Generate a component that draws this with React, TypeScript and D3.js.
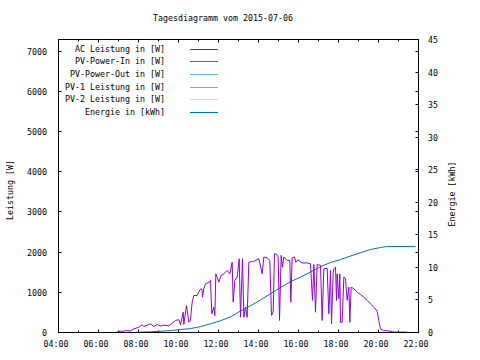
import React from "react";
import * as d3 from "d3";

const chartTitle = "Tagesdiagramm vom 2015-07-06";
const leftAxisLabel = "Leistung [W]";
const rightAxisLabel = "Energie [kWh]";

const acTimes = [
  "06:00", "06:50", "06:56", "07:06", "07:16", "07:21", "07:36", "07:46", "08:01", "08:11",
  "08:16", "08:26", "08:36", "08:46", "08:56", "09:06", "09:16", "09:31", "09:41", "09:51",
  "10:01", "10:06", "10:14", "10:16", "10:24", "10:31", "10:36", "10:38", "10:41", "10:46",
  "10:56", "11:04", "11:08", "11:11", "11:12", "11:16", "11:21", "11:31", "11:36", "11:40",
  "11:46", "11:49", "11:52", "11:56", "12:01", "12:08", "12:16", "12:26", "12:34", "12:41",
  "12:44", "12:49", "12:56", "13:02", "13:06", "13:12", "13:16", "13:21", "13:26", "13:31",
  "13:46", "14:01", "14:11", "14:16", "14:26", "14:34", "14:39", "14:44", "14:48", "14:54",
  "14:59", "15:03", "15:08", "15:12", "15:16", "15:26", "15:34", "15:37", "15:41", "15:48",
  "15:52", "15:58", "16:11", "16:26", "16:36", "16:42", "16:46", "16:51", "16:56", "17:06",
  "17:11", "17:16", "17:26", "17:31", "17:36", "17:39", "17:44", "17:46", "17:51", "17:54",
  "17:56", "18:01", "18:04", "18:06", "18:11", "18:16", "18:21", "18:26", "18:31", "18:34",
  "18:38", "18:46", "18:56", "19:06", "19:16", "19:26", "19:36", "19:46", "19:56", "20:01",
  "20:06", "20:16", "20:31", "20:46", "21:26",
];
const acValues = [
  0, 0, 10, 30, 30, 50, 40, 90, 130, 190,
  150, 180, 215, 150, 200, 160, 180, 170, 230, 300,
  320, 190, 505, 200, 670, 260, 300, 500, 750, 920,
  920, 1060, 1090, 1045, 880, 1090, 1210, 1250, 1295, 465,
  630, 420, 1460, 1380, 1250, 1420, 1460, 1545, 1460, 1750,
  755, 1295, 1380, 1835, 380, 1835, 380, 630, 380, 1750,
  1770, 1835, 1460, 1880, 1855, 1795, 425, 505, 1960, 1945,
  1880, 300, 1920, 1625, 1880, 1795, 1795, 755, 1855, 1880,
  1750, 1810, 1730, 1730, 1710, 800, 1690, 505, 1690, 1670,
  300, 1585, 1600, 465, 1545, 215, 1460, 1585, 1625, 800,
  1460, 840, 1460, 255, 255, 1380, 1340, 800, 1130, 255,
  1130, 1090, 1005, 945, 880, 800, 715, 630, 530, 300,
  90, 50, 40, 10, 10,
];

const energyTimes = [
  "07:36", "08:36", "09:36", "10:06", "10:36", "11:06", "11:36", "12:06", "12:36", "13:06",
  "13:36", "14:06", "14:36", "15:06", "15:36", "16:06", "16:36", "17:06", "17:36", "18:06",
  "18:36", "19:06", "19:36", "20:06", "20:24", "21:51",
];
const energyValues = [
  0, 0.1, 0.3, 0.45, 0.6, 0.9, 1.35, 1.8, 2.4, 3.3,
  4.1, 5.0, 5.95, 6.9, 7.8, 8.5, 9.3, 10.1, 10.75, 11.2,
  11.75, 12.25, 12.75, 13.05, 13.2, 13.2,
];

const leftTicks = [0, 1000, 2000, 3000, 4000, 5000, 6000, 7000];
const rightTicks = [0, 5, 10, 15, 20, 25, 30, 35, 40, 45];
const xMajorTicks = ["04:00", "06:00", "08:00", "10:00", "12:00", "14:00", "16:00", "18:00", "20:00", "22:00"];
const xMinorTicks = ["05:00", "07:00", "09:00", "11:00", "13:00", "15:00", "17:00", "19:00", "21:00"];

const legendLabels = [
  "AC Leistung in [W]",
  "PV-Power-In in [W]",
  "PV-Power-Out in [W]",
  "PV-1 Leistung in [W]",
  "PV-2 Leistung in [W]",
  "Energie in [kWh]",
];
const legendColors = ["#9400d3", "#009e73", "#56b4e9", "#e69f00", "#f0e442", "#0072b2"];

const FONT = "'DejaVu Sans Mono', monospace";
const FS = 8.3;

const toHours = (s: string) => {
  const [h, m] = s.split(":").map(Number);
  return h + m / 60;
};

export default function App() {
  const left = 58.5, right = 418.5, top = 39.5, bottom = 332.5;
  const x = d3.scaleLinear().domain([4, 22]).range([left, right]);
  const yL = d3.scaleLinear().domain([0, 7290]).range([bottom, top]);
  const yR = d3.scaleLinear().domain([0, 45]).range([bottom, top]);
  const crisp = (v: number) => Math.round(v - 0.5) + 0.5;

  const acLine = d3
    .line<number>()
    .x((_, i) => x(toHours(acTimes[i])))
    .y((d) => yL(d));
  const enLine = d3
    .line<number>()
    .x((_, i) => x(toHours(energyTimes[i])))
    .y((d) => yR(d));

  const tickLen = 3;
  const minorLen = 2;

  return (
    <svg
      width={480}
      height={360}
      style={{ position: "absolute", left: 0, top: 0, background: "#fff" }}
      fontFamily={FONT}
      fontSize={FS}
    >
      <rect x={0} y={0} width={480} height={360} fill="#fff" />
      <text x={223} y={21} textAnchor="middle" fill="#000">
        {chartTitle}
      </text>

      {leftTicks.map((t) => {
        const yy = crisp(yL(t));
        return (
          <g key={"l" + t}>
            {t > 0 && (
              <>
                <line x1={left} x2={left + tickLen} y1={yy} y2={yy} stroke="#000" />
                <line x1={right} x2={right - tickLen} y1={yy} y2={yy} stroke="#000" />
              </>
            )}
            <text x={47} y={yy + 3} textAnchor="end" fill="#000">
              {t}
            </text>
          </g>
        );
      })}

      {rightTicks.map((t) => {
        const yy = crisp(yR(t));
        return (
          <g key={"r" + t}>
            {t > 0 && t < 45 && (
              <line x1={right} x2={right - tickLen} y1={yy} y2={yy} stroke="#000" />
            )}
            <text x={428} y={yy + 3} textAnchor="start" fill="#000">
              {t}
            </text>
          </g>
        );
      })}

      {xMajorTicks.map((t) => {
        const xx = crisp(x(toHours(t)));
        return (
          <g key={"x" + t}>
            <line x1={xx} x2={xx} y1={bottom} y2={bottom - tickLen} stroke="#000" />
            <line x1={xx} x2={xx} y1={top} y2={top + tickLen} stroke="#000" />
            <text x={xx - 2.5} y={347} textAnchor="middle" fill="#000">
              {t}
            </text>
          </g>
        );
      })}
      {xMinorTicks.map((t) => {
        const xx = crisp(x(toHours(t)));
        return (
          <g key={"m" + t}>
            <line x1={xx} x2={xx} y1={bottom} y2={bottom - minorLen} stroke="#000" />
            <line x1={xx} x2={xx} y1={top} y2={top + minorLen} stroke="#000" />
          </g>
        );
      })}

      <text transform={`translate(13,190) rotate(-90)`} textAnchor="middle" fill="#000">
        {leftAxisLabel}
      </text>
      <text transform={`translate(455,194) rotate(-90)`} textAnchor="middle" fill="#000">
        {rightAxisLabel}
      </text>

      {legendLabels.map((lab, i) => {
        const by = 51.5 + i * 12.7;
        return (
          <g key={lab}>
            <text x={165} y={by} textAnchor="end" fill="#000">
              {lab}
            </text>
            <line
              x1={190}
              x2={218}
              y1={Math.round(by - 3) + 0.5}
              y2={Math.round(by - 3) + 0.5}
              stroke={legendColors[i]}
              strokeWidth={1}
            />
          </g>
        );
      })}

      <path d={enLine(energyValues) || ""} fill="none" stroke={legendColors[5]} strokeWidth={1} />
      <path d={acLine(acValues) || ""} fill="none" stroke={legendColors[0]} strokeWidth={1} />

      <rect
        x={left}
        y={top}
        width={right - left}
        height={bottom - top}
        fill="none"
        stroke="#000"
        strokeWidth={1}
      />
    </svg>
  );
}
